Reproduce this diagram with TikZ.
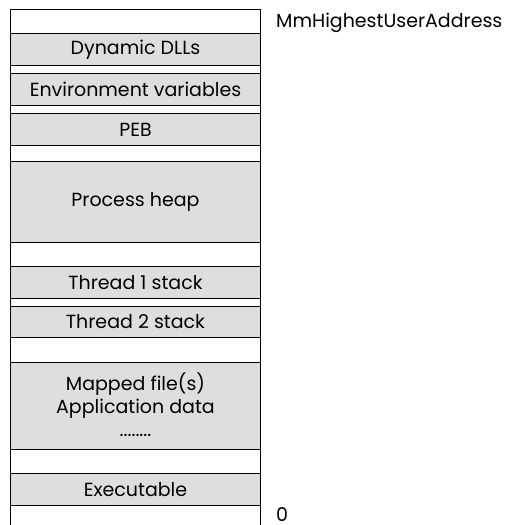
\documentclass[tikz,border=0pt]{standalone}
\usepackage{fontspec}
\setmainfont{Poppins}
\usetikzlibrary{positioning}

\definecolor{bandgray}{RGB}{221,222,224}
\tikzset{
  band/.style={draw=black, line width=1pt, fill=bandgray, anchor=north west,
    minimum width=250pt, inner sep=0pt, align=center,
    font=\fontsize{19}{23}\selectfont},
  addr/.style={anchor=west, inner sep=0pt, text depth=0pt, text height=13pt,
    font=\fontsize{19}{20}\selectfont}
}

\begin{document}
\begin{tikzpicture}[x=1pt,y=-1pt]
\useasboundingbox (0,0) rectangle (511,525);
%outer box
\draw[black, line width=1pt] (10,525) -- (10,9) -- (260,9) -- (260,525);

%regions
\node[band, minimum height=32pt] (dlls) at (10,33) {Dynamic DLLs};
\node[band, minimum height=32pt] (env) at (10,73) {Environment variables};
\node[band, minimum height=32pt] (peb) at (10,113) {PEB};
\node[band, minimum height=80.7pt] (heap) at (10,161) {Process heap};
\node[band, minimum height=32pt] (thr1) at (10,265.7) {Thread 1 stack};
\node[band, minimum height=31.6pt] (thr2) at (10,305.7) {Thread 2 stack};
\node[band, minimum height=87.3pt, text depth=3pt] (mapped) at (10,361.7) {Mapped file(s)\\Application data\\........};
\node[band, minimum height=31.7pt] (exe) at (10,473.3) {Executable};

%addresses
\node[addr] (top) at (276,21) {MmHighestUserAddress};
\node[addr] (zero) at (276,515) {0};
\end{tikzpicture}
\end{document}
